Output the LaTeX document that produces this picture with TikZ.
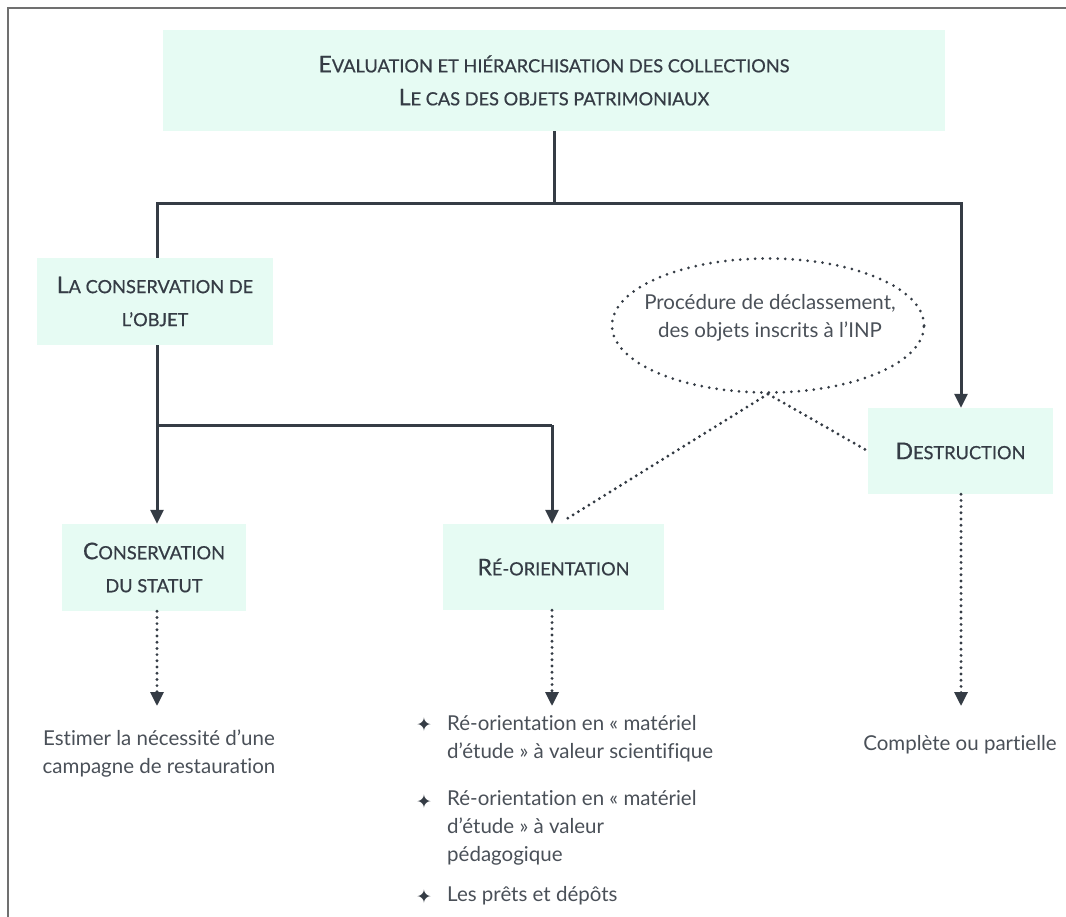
\documentclass[tikz,border=0pt]{standalone}
\usepackage{fontspec}
\setmainfont{Lato}[Ligatures=NoCommon]
\newfontfamily\headfont[FakeBold=0.6]{Lato}
\newfontfamily\symfont{DejaVu Sans}
\usetikzlibrary{shapes.geometric,arrows.meta,calc}
\definecolor{boxfill}{HTML}{E6FBF3}
\definecolor{ink}{HTML}{353C45}
\definecolor{txt}{HTML}{4A5058}
\definecolor{frame}{HTML}{707070}
\newcommand\fcap[1]{{\fontsize{23}{20}\selectfont #1}}
\begin{document}
\begin{tikzpicture}[x=1pt,y=-1pt,
  box/.style={fill=boxfill, draw=none, inner sep=0pt, align=center, text=ink, font=\headfont\fontsize{18.2}{33}\selectfont},
  conn/.style={draw=ink, line width=3pt},
  arr/.style={conn, -{Triangle[width=13pt,length=14pt]}},
  dotline/.style={draw=ink, line width=3.2pt, dash pattern=on 0pt off 6.2pt, line cap=round},
  dotarr/.style={dotline, -{Triangle[width=13pt,length=14pt]}},
  ovaldots/.style={draw=ink, line width=3pt, dash pattern=on 0pt off 7.5pt, line cap=round},
  body/.style={text=txt, font=\fontsize{20.5}{28}\selectfont, inner sep=0pt},
  bullet/.style={text=ink, font=\symfont\fontsize{19}{19}\selectfont, inner sep=0pt},
]
\useasboundingbox (0,0) rectangle (1066,917);
\draw[frame, line width=2pt] (8,917) -- (8,8) -- (1066,8);

% boxes
\node[box, minimum width=782pt, minimum height=101pt] (top) at (554,80.5)
  {\fcap{E}VALUATION ET HIÉRARCHISATION DES COLLECTIONS\\\fcap{L}E CAS DES OBJETS PATRIMONIAUX};
\node[box, minimum width=236pt, minimum height=87pt] (cons) at (155,301.5)
  {\fcap{L}A CONSERVATION DE\\L’OBJET};
\node[box, minimum width=184pt, minimum height=87pt] (statut) at (154,567.5)
  {\fcap{C}ONSERVATION\\DU STATUT};
\node[box, minimum width=221pt, minimum height=86pt] (reo) at (553.5,567)
  {\fcap{R}É-ORIENTATION};
\node[box, minimum width=185pt, minimum height=86pt] (dest) at (960.5,451)
  {\fcap{D}ESTRUCTION};

% oval
\node[ellipse, ovaldots, minimum width=312pt, minimum height=134pt, inner sep=0pt] (ell) at (768,325.5) {};
\node[body, align=center] (elltxt) at (770,318) {Procédure de déclassement,\\des objets inscrits à l’INP};

% junctions
\coordinate (j1) at (554,204);
\coordinate (jl) at (157,204);
\coordinate (jr) at (961,204);
\coordinate (k1) at (157,425);
\coordinate (k2) at (552,425);

\draw[conn] (top.south -| j1) -- (j1);
\draw[conn, line cap=rect] (jl) -- (jr);
\draw[conn] (jl) -- (jl |- cons.north);
\draw[arr] (jr) -- (jr |- dest.north);
\draw[conn] (k1 |- cons.south) -- (k1) -- (k2);
\draw[arr] (k1) -- (k1 |- statut.north);
\draw[arr] (k2) -- (k2 |- reo.north);

% dotted links from the oval
\coordinate (reoend) at ($(reo.north)+(10,-3)$);
\draw[dotline] (ell.south) -- (reoend);
\draw[dotline] (ell.south) -- (dest.west);

% targets of dotted arrows
\coordinate (e1) at (157,706);
\coordinate (e2) at (552,706);
\coordinate (e3) at (961,706);
\draw[dotarr] (statut.south -| e1) -- (e1);
\draw[dotarr] (reo.south -| e2) -- (e2);
\draw[dotarr] (dest.south -| e3) -- (e3);

% texts
\node[body, align=center] (est) at (159,754) {Estimer la nécessité d’une\\campagne de restauration};
\node[body] (comp) at (960,745) {Complète ou partielle};

\node[bullet] (b1) at (424,725) {✦};
\node[bullet] (b2) at (424,802) {✦};
\node[bullet] (b3) at (424,897) {✦};
\node[body, align=left, anchor=west] (i1) at (447,739) {Ré-orientation en « matériel\\d’étude » à valeur scientifique};
\node[body, align=left, anchor=west] (i2) at (447,828) {Ré-orientation en « matériel\\d’étude » à valeur\\pédagogique};
\node[body, align=left, anchor=west] (i3) at (447,896) {Les prêts et dépôts};
\end{tikzpicture}
\end{document}
